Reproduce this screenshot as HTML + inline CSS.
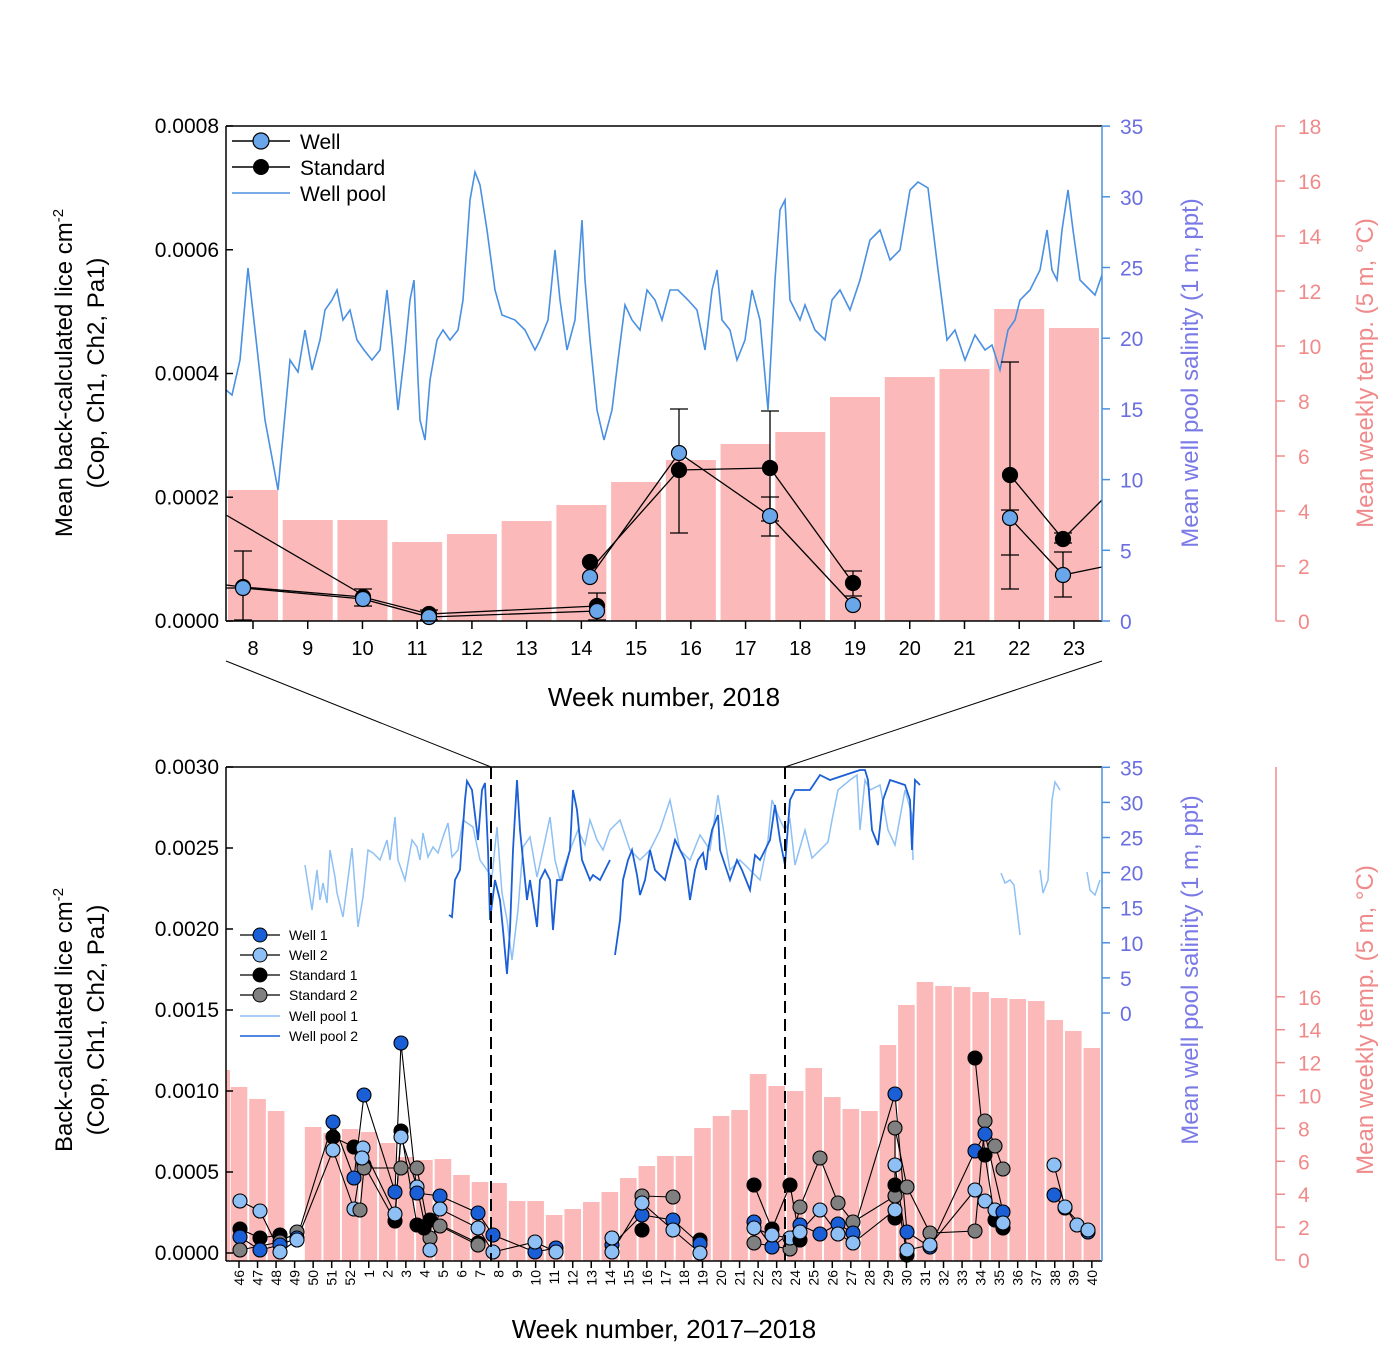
<!DOCTYPE html>
<html><head><meta charset="utf-8">
<style>
html,body{margin:0;padding:0;background:#fff;}
svg{display:block;font-family:"Liberation Sans",Arial,sans-serif;}
</style></head>
<body>
<svg id="s" width="1386" height="1353" viewBox="0 0 1386 1353" xmlns="http://www.w3.org/2000/svg">
<rect width="1386" height="1353" fill="#fff"/>
<g id="bars"></g>
<g id="lines" fill="none"></g>
<g id="pts"></g>
<g id="ax"></g>
<!-- axis titles -->
<text x="72" y="373" font-size="24" text-anchor="middle" transform="rotate(-90 72 373)">Mean back-calculated lice cm<tspan dy="-9" font-size="15">-2</tspan></text>
<text x="104" y="373" font-size="24" text-anchor="middle" transform="rotate(-90 104 373)">(Cop, Ch1, Ch2, Pa1)</text>
<text x="1198" y="373" font-size="24" fill="#7a7ae6" text-anchor="middle" transform="rotate(-90 1198 373)">Mean well pool salinity (1 m, ppt)</text>
<text x="1373" y="373" font-size="24" fill="#f08a8a" text-anchor="middle" transform="rotate(-90 1373 373)">Mean weekly temp. (5 m, °C)</text>
<text x="664" y="706" font-size="26" text-anchor="middle">Week number, 2018</text>
<text x="72" y="1020" font-size="24" text-anchor="middle" transform="rotate(-90 72 1020)">Back-calculated lice cm<tspan dy="-9" font-size="15">-2</tspan></text>
<text x="104" y="1020" font-size="24" text-anchor="middle" transform="rotate(-90 104 1020)">(Cop, Ch1, Ch2, Pa1)</text>
<text x="1198" y="970" font-size="24" fill="#7a7ae6" text-anchor="middle" transform="rotate(-90 1198 970)">Mean well pool salinity (1 m, ppt)</text>
<text x="1373" y="1020" font-size="24" fill="#f08a8a" text-anchor="middle" transform="rotate(-90 1373 1020)">Mean weekly temp. (5 m, °C)</text>
<text x="664" y="1338" font-size="26" text-anchor="middle">Week number, 2017–2018</text>
<!-- zoom connectors -->
<line x1="226" y1="661" x2="491" y2="767" stroke="#000" stroke-width="1"/>
<line x1="1102" y1="661" x2="785" y2="767" stroke="#000" stroke-width="1"/>
<line x1="491" y1="767" x2="491" y2="1261" stroke="#000" stroke-width="2" stroke-dasharray="12,6"/>
<line x1="785" y1="767" x2="785" y2="1261" stroke="#000" stroke-width="2" stroke-dasharray="12,6"/>
<!-- top legend -->
<g font-size="21">
<line x1="232" y1="141" x2="290" y2="141" stroke="#000" stroke-width="1.5"/><circle cx="261" cy="141" r="8" fill="#6aa6ea" stroke="#000" stroke-width="1.2"/><text x="300" y="149">Well</text>
<line x1="232" y1="167" x2="290" y2="167" stroke="#000" stroke-width="1.5"/><circle cx="261" cy="167" r="8" fill="#000"/><text x="300" y="175">Standard</text>
<line x1="232" y1="193" x2="290" y2="193" stroke="#4a90e2" stroke-width="1.5"/><text x="300" y="201">Well pool</text>
</g>
<!-- bottom legend -->
<g font-size="14">
<line x1="240" y1="935" x2="280" y2="935" stroke="#000" stroke-width="1.2"/><circle cx="260" cy="935" r="7" fill="#1a5fd6" stroke="#000"/><text x="289" y="940">Well 1</text>
<line x1="240" y1="955" x2="280" y2="955" stroke="#000" stroke-width="1.2"/><circle cx="260" cy="955" r="7" fill="#8ec0f5" stroke="#000"/><text x="289" y="960">Well 2</text>
<line x1="240" y1="975" x2="280" y2="975" stroke="#000" stroke-width="1.2"/><circle cx="260" cy="975" r="7" fill="#000" stroke="#000"/><text x="289" y="980">Standard 1</text>
<line x1="240" y1="995" x2="280" y2="995" stroke="#000" stroke-width="1.2"/><circle cx="260" cy="995" r="7" fill="#808080" stroke="#000"/><text x="289" y="1000">Standard 2</text>
<line x1="240" y1="1016" x2="280" y2="1016" stroke="#8ec0f5" stroke-width="1.5"/><text x="289" y="1021">Well pool 1</text>
<line x1="240" y1="1036" x2="280" y2="1036" stroke="#1a5fd6" stroke-width="1.5"/><text x="289" y="1041">Well pool 2</text>
</g>
</svg>
<script>
var NS="http://www.w3.org/2000/svg";
function el(p,t,a,txt){var e=document.createElementNS(NS,t);for(var k in a)e.setAttribute(k,a[k]);if(txt!=null)e.textContent=txt;document.getElementById(p).appendChild(e);return e;}
var BAR="#fbb9b9";
// top bars
var tw=[490,520,520,542,534,521,505,482,460,444,432,397,377,369,309,328];
for(var i=0;i<16;i++){var cx=253+i*54.73;el("bars","rect",{x:cx-25,y:tw[i],width:50,height:621-tw[i],fill:BAR});}
el("bars","rect",{x:226,y:490,width:0,height:0,fill:BAR});
// bottom bars
var lab=[],bt=[];
for(var w=46;w<=52;w++)lab.push(w);for(var w=1;w<=40;w++)lab.push(w);
bt=[1087,1099,1111,null,1127,1133,1129,1132,1143,1157,1160,1159,1175,1182,1183,1201,1201,1215,1209,1202,1192,1178,1166,1156,1156,1128,1116,1110,1074,1086,1091,1068,1097,1109,1111,1045,1005,982,986,987,992,998,999,1001,1020,1031,1048];
for(var i=0;i<47;i++){var cx=239+i*18.54;if(bt[i]!=null)el("bars","rect",{x:cx-8.3,y:bt[i],width:16.6,height:1261-bt[i],fill:BAR});}
el("bars","rect",{x:226,y:1070,width:4,height:191,fill:BAR});
// top salinity line
var tl="226,390 232,395 240,360 248,268 255,330 265,420 278,490 290,360 298,372 305,330 312,370 320,340 325,310 332,300 337,290 343,320 350,310 357,340 364,350 372,360 380,350 387,290 392,340 398,410 405,350 410,300 414,280 418,380 420,420 425,440 430,380 437,340 443,330 450,340 458,330 463,300 470,200 475,172 480,185 487,230 495,290 502,315 515,320 525,330 535,350 540,340 548,320 555,250 560,300 567,350 575,320 582,220 585,280 590,340 597,410 604,440 612,410 618,360 625,305 632,320 640,330 647,290 655,300 662,320 670,290 678,290 688,300 697,310 705,350 712,290 717,270 722,320 730,330 737,360 745,340 752,290 760,320 768,410 775,280 780,210 785,200 790,300 800,320 805,305 815,330 825,340 832,300 840,290 850,310 860,280 870,240 880,230 890,260 900,250 910,190 918,182 928,188 938,270 947,340 955,330 965,360 975,335 985,350 992,345 1000,370 1008,330 1015,320 1020,300 1030,290 1040,270 1047,230 1052,270 1057,280 1062,230 1068,190 1073,230 1080,280 1090,290 1095,295 1102,275";
el("lines","polyline",{points:tl,stroke:"#4a90e2","stroke-width":1.6});
// bottom pool lines
var p1="305,865 312,910 317,870 320,900 323,883 327,903 330,850 335,877 337,893 343,917 352,848 358,927 363,897 368,850 373,853 380,860 387,840 390,860 395,817 398,860 405,880 412,840 417,847 420,860 423,833 428,857 433,847 438,853 443,837 448,823 452,857 458,850 463,820 473,827 480,860 487,870 492,877 497,827 502,893 507,920 512,960 518,910 523,847 530,837 537,877 543,850 550,817 555,860 560,880 570,850 578,830 585,845 590,820 597,840 603,850 610,830 620,820 630,850 640,860 650,850 660,830 670,800 675,825 680,850 690,860 700,835 710,850 718,795 725,840 730,870 740,860 750,870 760,880 768,840 772,800 780,820 785,830 790,820 795,865 805,830 812,858 820,850 828,842 832,820 838,790 850,780 857,775 860,830 865,780 870,790 880,785 888,830 895,845 905,790 912,815 913,860";
el("lines","polyline",{points:p1,stroke:"#8ec0f5","stroke-width":1.5});
["1001,873 1005,883 1010,880 1014,885 1020,935","1040,870 1043,893 1048,880 1052,800 1055,782 1060,790","1087,872 1090,890 1095,895 1100,880"].forEach(function(p){el("lines","polyline",{points:p,stroke:"#8ec0f5","stroke-width":1.5});});
var p2="449,915 452,917 455,880 460,870 462,840 465,800 467,781 472,790 475,815 478,840 482,790 485,783 488,850 490,920 495,880 500,900 503,930 507,974 510,930 513,850 517,780 520,830 525,880 527,900 530,880 537,927 540,880 545,870 550,880 553,930 557,880 562,880 570,850 573,790 577,810 582,860 590,880 593,875 600,880 610,860";
el("lines","polyline",{points:p2,stroke:"#1a5fd6","stroke-width":1.8});
var p3="615,955 620,920 623,880 628,860 632,850 637,875 640,895 645,880 650,850 655,870 665,880 670,860 675,840 680,850 685,860 690,900 695,870 698,860 703,853 706,870 708,850 712,830 718,815 720,850 730,880 737,860 742,870 750,890 755,855 760,860 770,840 775,805 780,840 785,865 790,800 795,790 810,790 820,775 830,780 845,775 860,770 865,770 868,780 872,830 878,845 883,800 890,780 905,785 910,800 912,850 915,780 920,785";
el("lines","polyline",{points:p3,stroke:"#1a5fd6","stroke-width":1.8});
// top data lines
var K="#000";
["226,515 363,595","226,585 243,587 363,597 429,614 597,606","597,562 679,470 770,468 853,583","226,588 243,588 363,599 429,617 597,611","590,577 679,453 770,516 853,605","1010,475 1063,539 1102,500","1010,518 1063,575 1102,567"].forEach(function(p){el("lines","polyline",{points:p,stroke:K,"stroke-width":1.3});});
// error bars top
[[243,551,620],[363,589,606],[429,610,620],[597,593,620],[679,409,533],[770,411,521],[770,497,536],[853,571,596],[1010,362,589],[1010,510,555],[1063,533,543],[1063,552,597]].forEach(function(e){el("lines","line",{x1:e[0],y1:e[1],x2:e[0],y2:e[2],stroke:K,"stroke-width":1.3});el("lines","line",{x1:e[0]-9,y1:e[1],x2:e[0]+9,y2:e[1],stroke:K,"stroke-width":1.3});el("lines","line",{x1:e[0]-9,y1:e[2],x2:e[0]+9,y2:e[2],stroke:K,"stroke-width":1.3});});
var WB="#6aa6ea";
[[243,587,K],[363,597,K],[429,614,K],[590,562,K],[597,606,K],[679,470,K],[770,468,K],[853,583,K],[1010,475,K],[1063,539,K],
 [243,588,WB],[363,599,WB],[429,617,WB],[590,577,WB],[597,611,WB],[679,453,WB],[770,516,WB],[853,605,WB],[1010,518,WB],[1063,575,WB]].forEach(function(p){el("pts","circle",{cx:p[0],cy:p[1],r:7.5,fill:p[2],stroke:"#000","stroke-width":1.2});});
// bottom points
var C={a:"#1a5fd6",b:"#8ec0f5",c:"#000",d:"#808080"};
var bp=[[240,1201,"b"],[240,1229,"c"],[240,1237,"a"],[240,1250,"d"],[260,1211,"b"],[260,1238,"c"],[260,1250,"a"],[280,1235,"c"],[280,1242,"d"],[280,1245,"a"],[280,1252,"b"],[297,1232,"d"],[297,1238,"a"],[297,1240,"b"],
[333,1122,"a"],[333,1137,"c"],[333,1150,"b"],[354,1147,"c"],[354,1178,"a"],[354,1209,"b"],[360,1210,"d"],[364,1095,"a"],[364,1165,"c"],[364,1168,"d"],[363,1148,"b"],[362,1158,"b"],[395,1221,"c"],[395,1192,"a"],[395,1214,"b"],[401,1043,"a"],[401,1131,"c"],[401,1137,"b"],[401,1168,"d"],[417,1168,"d"],[417,1187,"b"],[417,1193,"a"],[417,1225,"c"],[430,1220,"c"],[430,1238,"d"],[430,1250,"b"],[440,1196,"a"],[440,1209,"b"],[440,1226,"d"],[424,1228,"c"],[478,1213,"a"],[478,1228,"b"],[478,1243,"c"],[478,1245,"d"],[493,1235,"a"],[493,1252,"b"],[535,1252,"a"],[535,1242,"b"],[556,1248,"a"],[556,1252,"b"],[612,1245,"a"],[612,1238,"b"],[612,1252,"b"],
[642,1230,"c"],[642,1196,"d"],[642,1215,"a"],[642,1203,"b"],[673,1197,"d"],[673,1220,"a"],[673,1230,"b"],[700,1240,"c"],[700,1244,"a"],[700,1253,"b"],
[754,1185,"c"],[754,1243,"d"],[754,1222,"a"],[754,1228,"b"],[772,1229,"c"],[772,1247,"a"],[772,1235,"b"],[790,1185,"c"],[790,1249,"d"],[790,1238,"b"],[800,1207,"d"],[800,1240,"c"],[800,1225,"a"],[800,1232,"b"],[820,1158,"d"],[820,1234,"a"],[820,1210,"b"],[838,1203,"d"],[838,1224,"a"],[838,1234,"b"],[853,1222,"d"],[853,1233,"a"],[853,1243,"b"],
[895,1218,"c"],[895,1196,"d"],[895,1185,"c"],[895,1128,"d"],[895,1210,"b"],[895,1165,"b"],[895,1094,"a"],[907,1187,"d"],[907,1255,"c"],[907,1232,"a"],[907,1250,"b"],[930,1233,"d"],[930,1247,"a"],[930,1245,"b"],
[975,1058,"c"],[975,1231,"d"],[975,1151,"a"],[975,1190,"b"],[985,1121,"d"],[985,1155,"c"],[985,1134,"a"],[985,1201,"b"],[995,1146,"d"],[995,1220,"c"],[995,1210,"b"],[1003,1169,"d"],[1003,1228,"c"],[1003,1212,"a"],[1003,1223,"b"],
[1054,1195,"a"],[1054,1165,"b"],[1065,1208,"a"],[1065,1207,"b"],[1077,1225,"b"],[1088,1232,"a"],[1088,1230,"b"]];
// connecting lines per series
var byS={};bp.forEach(function(p){(byS[p[2]]=byS[p[2]]||[]).push(p);});
for(var s in byS){var arr=byS[s].slice().sort(function(a,b){return a[0]-b[0];});var seg=[];
 for(var i=0;i<arr.length;i++){if(seg.length&&arr[i][0]-seg[seg.length-1][0]>50){if(seg.length>1)el("lines","polyline",{points:seg.map(function(q){return q[0]+","+q[1];}).join(" "),stroke:"#000","stroke-width":1.1});seg=[];}seg.push(arr[i]);}
 if(seg.length>1)el("lines","polyline",{points:seg.map(function(q){return q[0]+","+q[1];}).join(" "),stroke:"#000","stroke-width":1.1});}
bp.forEach(function(p){el("pts","circle",{cx:p[0],cy:p[1],r:7,fill:C[p[2]],stroke:"#000","stroke-width":1.1});});
// axes
function L(x1,y1,x2,y2,c,w){el("ax","line",{x1:x1,y1:y1,x2:x2,y2:y2,stroke:c||"#000","stroke-width":w||1.5});}
function T(x,y,t,c,a,fs,tr){var o={x:x,y:y,"font-size":fs||21,fill:c||"#000","text-anchor":a||"end"};if(tr)o.transform=tr;el("ax","text",o,t);}
// top
L(226,126,1102,126);L(226,126,226,621);L(226,621,1102,621);
var tl2=["0.0000","0.0002","0.0004","0.0006","0.0008"];
for(var i=0;i<5;i++){var y=621-i*123.75;L(226,y,233,y);T(219,y+7,tl2[i]);}
for(var i=0;i<16;i++){var x=253+i*54.73;L(x,621,x,629);T(x,655,String(8+i),"#000","middle",20);}
L(1102,126,1102,621,"#4a90e2");
for(var i=0;i<=7;i++){var y=621-i*70.7;L(1102,y,1110,y,"#4a90e2");T(1120,y+8,String(i*5),"#6a6ee0","start",21);}
L(1276,126,1276,621,"#f08a8a");
for(var i=0;i<=9;i++){var y=621-i*55;L(1276,y,1285,y,"#f08a8a");T(1298,y+8,String(i*2),"#f08a8a","start",21);}
// bottom
L(226,767,1102,767);L(226,767,226,1261);L(226,1261,1102,1261);
var bl=["0.0000","0.0005","0.0010","0.0015","0.0020","0.0025","0.0030"];
for(var i=0;i<7;i++){var y=1253-i*81;L(226,y,233,y);T(219,y+7,bl[i]);}
for(var i=0;i<47;i++){var x=239+i*18.54;L(x,1261,x,1268);T(x+5,1270,String(lab[i]),"#000","end",14,"rotate(-90 "+(x+5)+" 1270)");}
L(1102,767,1102,1261,"#4a90e2");
for(var i=0;i<=7;i++){var y=1013-i*35.1;L(1102,y,1110,y,"#4a90e2");T(1120,y+8,String(i*5),"#6a6ee0","start",21);}
L(1276,767,1276,1260,"#f08a8a");
for(var i=0;i<=8;i++){var y=1260-i*32.9;L(1276,y,1285,y,"#f08a8a");T(1298,y+8,String(i*2),"#f08a8a","start",21);}
</script>
</body></html>
